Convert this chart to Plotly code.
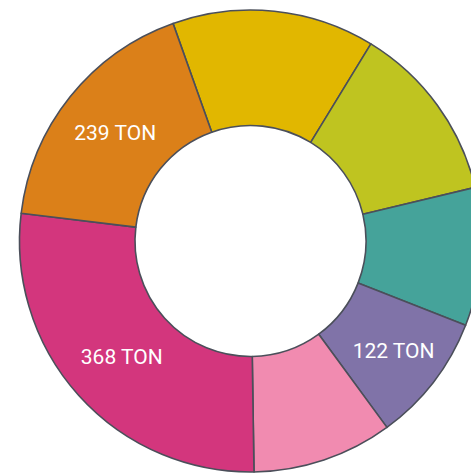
import plotly.graph_objects as go

# Slices, clockwise starting from the top yellow one
labels = ['A', 'B', 'C', 'D', 'E', 'F', 'G']
values = [192, 170, 131, 122, 133, 368, 239]
unit = 'TON'
shown = [False, False, False, True, False, True, True]

colors = ['#e1b700', '#bfc420', '#45a39a', '#8073a8', '#f18bb0', '#d3367d', '#db8019']
slice_text = [f"{v} {unit}" if s else "" for v, s in zip(values, shown)]

fig = go.Figure(go.Pie(
    labels=labels, values=values,
    text=slice_text, textinfo='text', textposition='inside',
    insidetextorientation='horizontal',
    textfont=dict(family='Roboto', size=21, color='white'),
    hole=0.5, sort=False, direction='clockwise', rotation=340.4,
    marker=dict(colors=colors, line=dict(color='#4b4f5a', width=1.6)),
    showlegend=False, hoverinfo='label+value',
))

fig.update_layout(
    width=482, height=474,
    margin=dict(l=19, r=0, t=10, b=2),
    paper_bgcolor='white',
    font=dict(family='Roboto'),
)

fig.write_html("out.html", config={'displayModeBar': False},
               post_script="document.body.style.margin='0';document.body.style.overflow='hidden';")
